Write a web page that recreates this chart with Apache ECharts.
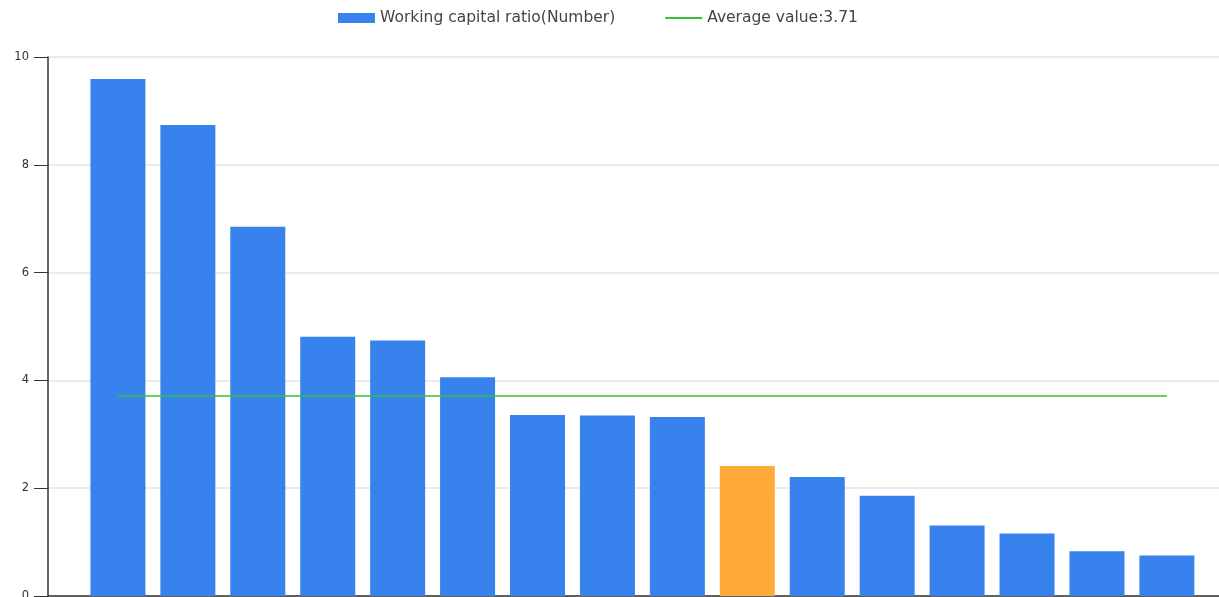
<!DOCTYPE html>
<html>
<head>
<meta charset="utf-8">
<script src="https://cdn.jsdelivr.net/npm/echarts@6/dist/echarts.min.js"></script>
<style>
  html, body { margin: 0; padding: 0; background: #fff; }
  #chart { width: 1219px; height: 597px; }
</style>
</head>
<body>
<div id="chart"></div>
<script>
// one bar per company, sorted high to low; index 9 is the highlighted one
const positions = [1, 2, 3, 4, 5, 6, 7, 8, 9, 10, 11, 12, 13, 14, 15, 16];
const ratios = [9.59, 8.74, 6.85, 4.81, 4.74, 4.06, 3.36, 3.35, 3.32, 2.41, 2.21, 1.86, 1.31, 1.16, 0.83, 0.75];
const highlighted = [9];
const yTicks = [0, 2, 4, 6, 8, 10];

const avg = ratios.reduce((a, b) => a + b, 0) / ratios.length;
const barName = "Working capital ratio(Number)";
const avgName = "Average value:" + avg.toFixed(2);

const chart = echarts.init(document.getElementById("chart"));
chart.setOption({
  animation: false,
  textStyle: { fontFamily: "DejaVu Sans" },
  legend: {
    top: 5,
    left: 333,
    itemWidth: 37,
    itemHeight: 10,
    itemGap: 50,
    textStyle: { color: "#444", fontSize: 15.5, fontFamily: "DejaVu Sans" },
    data: [
      { name: barName, icon: "rect" },
      { name: avgName, icon: "path://M0,0 L38,0 L38,2 L0,2 Z" }
    ]
  },
  grid: { left: 48, right: 0, top: 57, bottom: 1, outerBoundsMode: "none" },
  xAxis: {
    type: "value",
    min: 0,
    max: 16.745,
    axisLine: { show: true, onZero: false, lineStyle: { color: "#333", width: 1.5 } },
    axisTick: { show: false },
    axisLabel: { show: false },
    splitLine: { show: false }
  },
  yAxis: {
    type: "value",
    min: yTicks[0],
    max: yTicks[yTicks.length - 1],
    interval: 2,
    axisLine: { show: true, lineStyle: { color: "#333", width: 1.5 } },
    axisTick: { show: true, length: 14, lineStyle: { color: "#333" } },
    axisLabel: { color: "#333", fontSize: 11.5, margin: 19, fontFamily: "DejaVu Sans" },
    splitLine: { show: true, lineStyle: { color: "#e4e4e4", width: 1.5 } }
  },
  series: [
    {
      name: barName,
      type: "bar",
      barWidth: 55,
      itemStyle: { color: "#3782ec" },
      data: positions.map((p, i) => ({
        value: [p, ratios[i]],
        itemStyle: highlighted.includes(i) ? { color: "#fdaa3a" } : undefined
      }))
    },
    {
      name: avgName,
      type: "line",
      symbol: "none",
      lineStyle: { color: "#35c235", width: 1.5 },
      itemStyle: { color: "#35c235" },
      data: positions.map(p => [p, Number(avg.toFixed(2))])
    }
  ]
});
</script>
</body>
</html>
